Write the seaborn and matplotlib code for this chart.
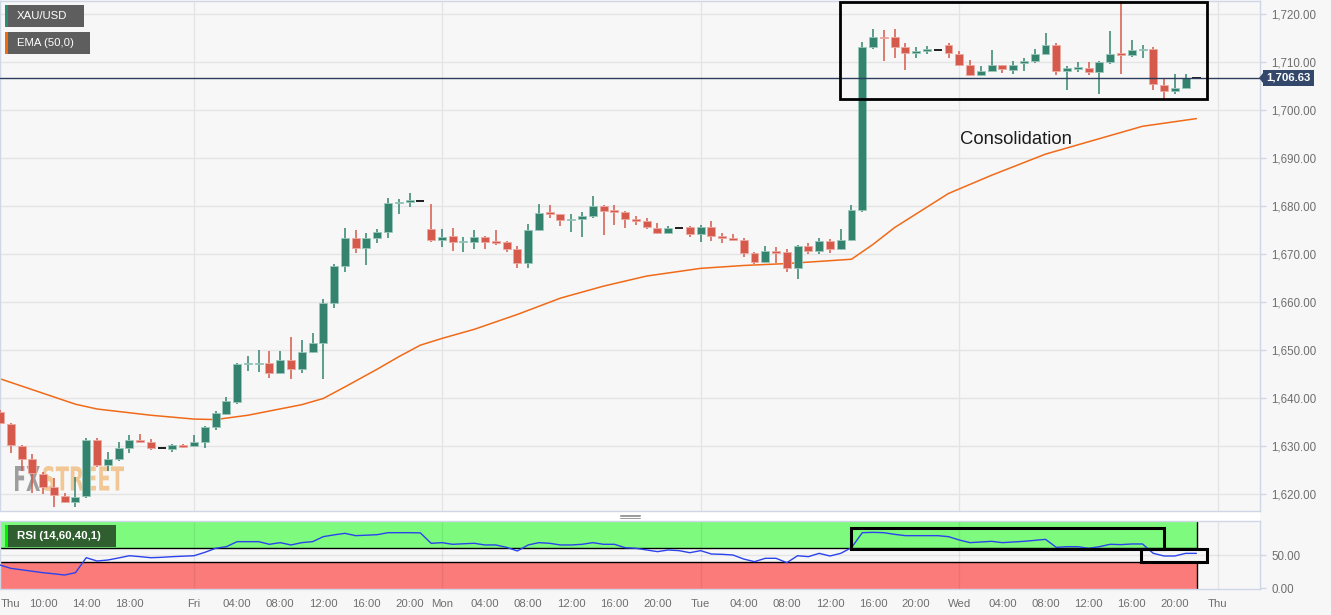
import numpy as np
import pandas as pd
import seaborn as sns
import matplotlib.pyplot as plt
from matplotlib.patches import Rectangle, Polygon, PathPatch
from matplotlib.lines import Line2D
from matplotlib.textpath import TextPath
from matplotlib.font_manager import FontProperties
from matplotlib.transforms import Affine2D

# hourly XAU/USD candles, position 0 = Fri 00:00 (weekend gap removed)
first_pos = -18
opens = [1637.0, 1634.5, 1630.0, 1627.3, 1624.2, 1621.4, 1619.6, 1618.4, 1619.6, 1631.2,
         1626.0, 1627.2, 1629.5, 1631.2, 1630.9, 1629.5, 1629.3, 1630.3, 1630.0, 1630.9,
         1634.0, 1636.7, 1639.2, 1647.0, 1647.0, 1647.3, 1645.1, 1648.0, 1646.0, 1649.5,
         1651.5, 1659.7, 1667.4, 1673.3, 1671.2, 1673.4, 1674.6, 1680.6, 1680.9, 1681.0,
         1675.1, 1672.9, 1673.7, 1672.4, 1672.5, 1673.5, 1672.6, 1672.4, 1671.0, 1668.2,
         1674.9, 1678.7, 1678.3, 1677.0, 1677.3, 1678.0, 1679.9, 1679.1, 1678.7, 1677.2,
         1676.9, 1675.5, 1674.4, 1675.4, 1675.6, 1674.2, 1675.6, 1673.7, 1673.3, 1673.0,
         1670.2, 1668.3, 1670.6, 1670.4, 1667.0, 1671.6, 1670.6, 1672.6, 1671.0, 1673.0,
         1679.1, 1713.2, 1715.3, 1715.1, 1713.1, 1711.9, 1712.3, 1712.5, 1713.6, 1711.7,
         1709.3, 1707.2, 1708.2, 1709.3, 1708.4, 1709.8, 1710.3, 1711.7, 1713.6, 1708.1,
         1708.6, 1708.8, 1707.9, 1710.0, 1711.8, 1711.5, 1712.4, 1712.6, 1705.3, 1703.9,
         1704.6, 1706.63]
highs = [1637.5, 1634.8, 1630.1, 1628.3, 1624.6, 1623.3, 1620.2, 1623.6, 1631.6, 1631.6,
         1628.8, 1630.9, 1632.3, 1632.5, 1631.4, 1629.5, 1630.5, 1630.4, 1632.3, 1634.2,
         1637.3, 1640.1, 1647.3, 1648.7, 1650.0, 1649.8, 1649.8, 1652.7, 1652.0, 1653.6,
         1660.7, 1668.0, 1675.5, 1674.9, 1674.4, 1675.1, 1681.7, 1681.4, 1682.6, 1681.0,
         1680.4, 1675.3, 1675.5, 1673.5, 1674.9, 1673.7, 1674.9, 1672.7, 1671.6, 1676.3,
         1680.4, 1680.3, 1678.4, 1678.3, 1678.7, 1682.0, 1680.1, 1680.2, 1678.9, 1678.0,
         1677.5, 1676.4, 1675.8, 1675.4, 1675.8, 1676.0, 1676.8, 1674.4, 1674.1, 1673.4,
         1670.4, 1671.6, 1671.5, 1671.1, 1671.8, 1672.3, 1673.4, 1673.2, 1675.3, 1680.3,
         1714.1, 1716.9, 1716.6, 1716.9, 1713.9, 1713.1, 1713.4, 1712.5, 1713.9, 1712.2,
         1710.5, 1709.1, 1712.5, 1709.4, 1710.2, 1710.9, 1712.7, 1716.0, 1713.9, 1709.1,
         1710.0, 1710.0, 1710.1, 1716.5, 1723.0, 1714.5, 1713.6, 1713.2, 1706.5, 1707.5,
         1707.4, 1706.63]
lows = [1634.5, 1628.6, 1624.8, 1620.1, 1620.0, 1617.3, 1618.2, 1617.2, 1619.1, 1625.6,
        1624.8, 1626.9, 1628.6, 1630.8, 1629.1, 1629.5, 1628.8, 1629.5, 1629.8, 1629.5,
        1633.3, 1636.5, 1638.7, 1645.7, 1645.4, 1644.1, 1644.9, 1643.9, 1645.2, 1649.4,
        1643.9, 1658.8, 1666.3, 1670.2, 1667.8, 1672.2, 1673.4, 1678.4, 1679.7, 1681.0,
        1672.4, 1671.5, 1670.6, 1670.4, 1671.1, 1671.1, 1671.8, 1670.4, 1667.0, 1667.1,
        1674.8, 1677.4, 1675.8, 1674.6, 1673.5, 1677.4, 1674.0, 1676.1, 1675.5, 1676.0,
        1675.1, 1674.1, 1674.3, 1675.4, 1673.5, 1672.5, 1672.7, 1672.2, 1672.7, 1669.4,
        1668.0, 1668.1, 1668.1, 1666.3, 1664.7, 1669.9, 1669.9, 1670.2, 1670.8, 1672.8,
        1678.7, 1712.6, 1710.2, 1710.9, 1708.4, 1710.9, 1711.7, 1712.5, 1710.9, 1709.1,
        1707.0, 1707.0, 1708.1, 1707.7, 1707.4, 1708.1, 1709.7, 1711.5, 1707.2, 1704.1,
        1707.9, 1707.2, 1703.3, 1709.6, 1707.5, 1711.1, 1710.9, 1704.2, 1702.3, 1703.4,
        1704.5, 1706.63]
closes = [1634.8, 1630.2, 1627.3, 1624.3, 1621.5, 1619.8, 1618.4, 1619.4, 1631.2, 1626.0,
          1627.2, 1629.5, 1631.2, 1630.9, 1629.6, 1629.5, 1630.3, 1629.8, 1630.9, 1634.0,
          1636.8, 1639.3, 1647.0, 1647.3, 1647.2, 1645.1, 1648.0, 1646.0, 1649.6, 1651.35,
          1659.7, 1667.4, 1673.3, 1671.2, 1673.3, 1674.6, 1680.6, 1680.8, 1681.0, 1681.0,
          1672.85, 1673.5, 1672.5, 1672.6, 1673.5, 1672.5, 1672.3, 1671.1, 1668.2, 1674.9,
          1678.6, 1678.3, 1677.0, 1677.2, 1678.0, 1679.9, 1678.9, 1678.7, 1677.2, 1676.9,
          1675.6, 1674.4, 1675.5, 1675.4, 1674.2, 1675.6, 1673.7, 1673.4, 1673.0, 1670.2,
          1668.3, 1670.6, 1670.3, 1667.0, 1671.6, 1670.6, 1672.6, 1671.0, 1673.0, 1679.2,
          1713.1, 1715.1, 1715.0, 1713.1, 1711.8, 1712.2, 1712.5, 1712.5, 1711.8, 1709.3,
          1707.2, 1708.2, 1709.3, 1708.6, 1709.4, 1710.3, 1711.7, 1713.6, 1708.1, 1708.8,
          1708.9, 1707.9, 1710.0, 1711.7, 1711.5, 1712.4, 1712.7, 1705.4, 1704.0, 1704.6,
          1706.6, 1706.63]

rsi = [34.8, 29.8, 27.6, 25.4, 23.2, 21.5, 19.7, 23.2, 45.9, 40.9,
       42.4, 45.5, 48.9, 47.5, 45.9, 46.5, 47.5, 48.2, 48.9, 54.0,
       60.1, 62.6, 70.2, 70.2, 70.2, 66.2, 68.7, 65.2, 68.7, 70.2,
       77.8, 80.5, 82.8, 79.3, 80.0, 80.8, 83.8, 83.8, 83.8, 83.5,
       67.7, 68.7, 66.2, 67.0, 67.7, 65.2, 65.2, 61.6, 56.1, 65.2,
       68.7, 67.7, 65.2, 65.2, 66.2, 68.7, 66.2, 66.2, 61.1, 60.1,
       57.6, 55.1, 57.6, 56.6, 53.5, 56.6, 51.5, 51.0, 50.0, 43.9,
       39.9, 45.0, 45.0, 38.4, 48.9, 47.5, 52.5, 48.5, 52.5, 61.1,
       83.8, 84.3, 83.8, 81.3, 79.3, 79.3, 79.3, 79.3, 77.8, 72.7,
       68.7, 69.7, 70.7, 68.7, 69.7, 70.7, 72.2, 73.7, 61.6, 62.6,
       62.6, 60.1, 62.6, 66.2, 65.7, 66.7, 66.7, 52.5, 48.5, 48.5,
       52.5, 52.5]

# EMA(50) read at a few candle positions
ema_pos = [-18, -11, -9, -4, 0, 2, 5, 10, 12, 14, 17, 19, 21, 23, 26, 30, 34, 38, 42,
           47, 51, 55, 61, 63, 65, 70, 74, 79, 88, 93]
ema_val = [1644.0, 1638.7, 1637.7, 1636.4, 1635.6, 1635.5, 1636.4, 1638.6, 1639.9, 1642.3,
           1646.0, 1648.6, 1651.0, 1652.4, 1654.3, 1657.4, 1660.8, 1663.3, 1665.4,
           1667.0, 1667.6, 1668.0, 1668.9, 1672.0, 1675.5, 1682.6, 1686.4, 1690.8, 1696.6, 1698.2]

tick_pos = [-17.9, -14, -10, -6, 0, 4, 8, 12, 16, 20, 23, 27, 31, 35, 39, 43, 47, 51, 55,
            59, 63, 67, 71, 75, 79, 83, 87, 91, 95]
tick_labels = ['Thu', '10:00', '14:00', '18:00', 'Fri', '04:00', '08:00', '12:00', '16:00',
               '20:00', 'Mon', '04:00', '08:00', '12:00', '16:00', '20:00', 'Tue', '04:00',
               '08:00', '12:00', '16:00', '20:00', 'Wed', '04:00', '08:00', '12:00', '16:00',
               '20:00', 'Thu']
day_pos = [0, 23, 47, 71, 95]
price_ticks = [1620, 1630, 1640, 1650, 1660, 1670, 1680, 1690, 1700, 1710, 1720]
rsi_ticks = [0, 50]
last_price = 1706.63

df = pd.DataFrame({'open': opens, 'high': highs, 'low': lows, 'close': closes, 'rsi': rsi})
df['pos'] = np.arange(first_pos, first_pos + len(df))

sns.set_style('white')
plt.rcParams['font.family'] = ['Liberation Sans', 'DejaVu Sans']

W, H = 1331, 615
BG = '#f7f7f7'
SPINE = '#cfd6e6'
fig = plt.figure(figsize=(W / 100, H / 100), dpi=100, facecolor=BG)


def px_box(x0, y0, x1, y1):
    return (x0 / W, 1 - y1 / H, (x1 - x0) / W, (y1 - y0) / H)


def fig_rect(x0, y0, x1, y1, color, z=10):
    fig.add_artist(Rectangle(px_box(x0, y0, x1, y1)[:2], (x1 - x0) / W, (y1 - y0) / H,
                             transform=fig.transFigure, color=color, lw=0, zorder=z))


# white separator between panels
fig_rect(0, 511, 1260, 521, 'white', z=-5)

ax = fig.add_axes(px_box(0, 1, 1260, 511))
ax_rsi = fig.add_axes(px_box(0, 521, 1260, 589))
for a in (ax, ax_rsi):
    a.set_facecolor(BG)
    for s in a.spines.values():
        s.set_color(SPINE)
        s.set_linewidth(1)
    a.set_xlim(-18.0, 98.9)

# ---- price panel ----
ax.set_ylim(1616.45, 1722.7)
for p in price_ticks:
    ax.axhline(p, color='#e4e4e4', lw=1, zorder=0)
for d in day_pos:
    ax.axvline(d, color='#e4e4e4', lw=1, zorder=0)

# watermark
def watermark(txt, x0, x1, y_top, y_bot, color, alpha):
    tp = TextPath((0, 0), txt, size=1, prop=FontProperties(family='DejaVu Sans', weight='bold'))
    bb = tp.get_extents()
    sx = (x1 - x0) / bb.width / W
    sy = (y_bot - y_top) / bb.height / H
    tr = Affine2D().translate(-bb.x0, -bb.y0).scale(sx, sy).translate(x0 / W, 1 - y_bot / H)
    ax.add_patch(PathPatch(tp, transform=tr + fig.transFigure, color=color, alpha=alpha,
                           lw=0, zorder=1))


watermark('FX', 15, 40, 466, 491, '#8f8f8f', 0.85)
watermark('STREET', 43, 124, 466, 491, '#f0bf85', 0.85)

up, down = '#33836f', '#d65a4c'
for _, r in df.iterrows():
    o, h, l, c, x = r['open'], r['high'], r['low'], r['close'], r['pos']
    if o == c:
        ax.hlines(o, x - 0.38, x + 0.38, color='#1e1e1e', lw=1.4, zorder=4)
        continue
    col = up if c > o else down
    edge = '#9cc7bb' if c > o else '#eeaaa2'
    ax.vlines(x, l, h, color=col, lw=1.1, zorder=3)
    ax.bar(x, max(abs(c - o), 0.3), bottom=min(o, c), width=0.74, color=col,
           edgecolor=edge, linewidth=0.6, zorder=4)

sns.lineplot(x=ema_pos, y=ema_val, ax=ax, color='#f06a18', lw=1.1, zorder=2)
ax.axhline(last_price, color='#2c3e5c', lw=1, zorder=5)

ax.add_patch(Rectangle((59.93, 1702.3), 94.0 - 59.93, 1722.55 - 1702.3, fill=False,
                       ec='black', lw=2.0, zorder=6, clip_on=False))
ax.text(71.06, 1693.9, 'Consolidation', fontsize=13.3, va='center', ha='left', color='#1c1c1c')

ax.yaxis.tick_right()
ax.set_yticks(price_ticks)
ax.set_yticklabels([f'{p:,.2f}' for p in price_ticks])
ax.tick_params(axis='y', direction='out', length=4, width=1, color=SPINE,
               labelcolor='#6e6e6e', labelsize=8.3, pad=4)
ax.set_xticks([])
ax.set_xlabel('')
ax.set_ylabel('')

# ---- RSI panel ----
ax_rsi.set_ylim(-1.5, 101.5)
end = df['pos'].iloc[-1] + 0.05
ax_rsi.fill_between([-19, end], 60, 101.5, color='#7efb7e', lw=0, zorder=0.5)
ax_rsi.fill_between([-19, end], -1.5, 40, color='#fb7b7b', lw=0, zorder=0.5)
ax_rsi.hlines([60, 40], -19, end, color='black', lw=1, zorder=1.5)
ax_rsi.vlines(end, -1.5, 40, color='black', lw=1, zorder=1.5)
ax_rsi.vlines(end, 60, 101.5, color='black', lw=1, zorder=1.5)
ax_rsi.axhline(50, color='black', alpha=0.07, lw=1, zorder=1)
for d in day_pos:
    ax_rsi.axvline(d, color='black', alpha=0.07, lw=1, zorder=1)

sns.lineplot(x=df['pos'], y=df['rsi'], ax=ax_rsi, color='#2a43ec', lw=1.0, zorder=3)

ax_rsi.add_patch(Rectangle((60.93, 58.6), 90.0 - 60.93, 91.4 - 58.6, fill=False,
                           ec='black', lw=2.2, zorder=5, clip_on=False))
ax_rsi.add_patch(Rectangle((87.9, 39.9), 94.0 - 87.9, 59.1 - 39.9, fill=False,
                           ec='black', lw=2.2, zorder=5, clip_on=False))

ax_rsi.yaxis.tick_right()
ax_rsi.set_yticks(rsi_ticks)
ax_rsi.set_yticklabels([f'{v:.2f}' for v in rsi_ticks])
ax_rsi.set_xticks(tick_pos)
ax_rsi.set_xticklabels(tick_labels)
ax_rsi.tick_params(axis='both', direction='out', length=3, width=1, color=SPINE,
                   labelcolor='#6e6e6e', labelsize=8.2)
ax_rsi.tick_params(axis='x', pad=4)
ax_rsi.tick_params(axis='y', length=4, pad=4, labelsize=8.3)
ax_rsi.get_xticklabels()[0].set_horizontalalignment('left')
ax_rsi.set_xlabel('')
ax_rsi.set_ylabel('')

# ---- legend tags ----
def tag(x0, y0, x1, y1, strip, text, bg='#5e5e5e', bold=False):
    fig_rect(x0, y0, x1, y1, bg, z=20)
    fig_rect(x0, y0, x0 + 3, y1, strip, z=21)
    fig.text((x0 + 12) / W, 1 - (y0 + y1) / 2 / H, text, color='white', fontsize=8.2,
             va='center', ha='left', weight='bold' if bold else 'normal', zorder=22)


tag(5, 5, 84, 27, '#2e8b74', 'XAU/USD')
tag(5, 32, 90, 54, '#f06a10', 'EMA (50,0)')
tag(5, 525, 116, 547, '#00ee00', 'RSI (14,60,40,1)', bg='#2f5f2f', bold=True)

# last price label
fig_rect(1263, 70, 1314, 86, '#33486a', z=20)
fig.add_artist(Polygon([(1259 / W, 1 - 78 / H), (1263 / W, 1 - 73 / H), (1263 / W, 1 - 83 / H)],
                       closed=True, transform=fig.transFigure, color='#33486a', lw=0, zorder=20))
fig.text(1288.5 / W, 1 - 78 / H, f'{last_price:,.2f}', color='white', fontsize=8.2,
         weight='bold', ha='center', va='center', zorder=22)

# panel resize handle
for yy in (514.5, 516, 517.5):
    fig.add_artist(Line2D([620 / W, 640 / W], [1 - yy / H, 1 - yy / H],
                          transform=fig.transFigure, color='#8a8a8a', lw=0.6, zorder=20))

fig.savefig('out.png', dpi=100, facecolor=BG)
